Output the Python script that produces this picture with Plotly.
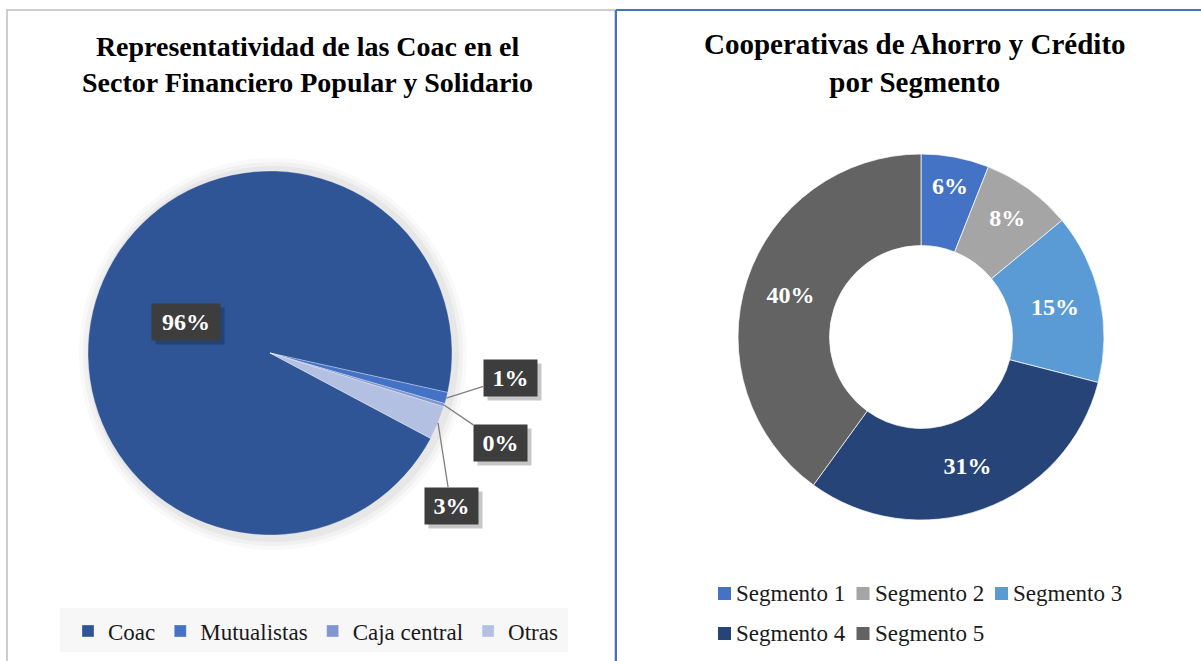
import math
import plotly.graph_objects as go

# datos
sector_labels = ["Coac", "Mutualistas", "Caja central", "Otras"]
sector_values = [95.7, 1.0, 0.3, 3.0]
sector_colors = ["#2F5597", "#4472C4", "#7F96D1", "#B4C0E2"]

segment_labels = ["Segmento 1", "Segmento 2", "Segmento 3", "Segmento 4", "Segmento 5"]
segment_values = [6, 8, 15, 31, 40]
segment_colors = ["#4472C4", "#A5A5A5", "#5B9BD5", "#264478", "#636363"]

W, H = 1201, 661
FONT = "Liberation Serif"


def px(x):
    return x / W


def py(y):
    return 1 - y / H


# geometria de los graficos (en pixeles)
pie_cx, pie_cy, pie_r = 270, 353, 182
pie_rotation = 118
don_cx, don_cy, don_r = 921, 337, 183

fig = go.Figure()

fig.add_trace(go.Pie(
    labels=sector_labels,
    values=sector_values,
    marker=dict(colors=sector_colors, line=dict(color="rgba(255,255,255,0.6)", width=0.5)),
    sort=False,
    direction="clockwise",
    rotation=pie_rotation,
    textinfo="none",
    hoverinfo="label+percent",
    domain=dict(x=[px(pie_cx - pie_r), px(pie_cx + pie_r)],
                y=[py(pie_cy + pie_r), py(pie_cy - pie_r)]),
))

fig.add_trace(go.Pie(
    labels=segment_labels,
    values=segment_values,
    hole=0.5,
    marker=dict(colors=segment_colors, line=dict(color="rgba(255,255,255,0.7)", width=1)),
    sort=False,
    direction="clockwise",
    rotation=0,
    textposition="inside",
    insidetextorientation="horizontal",
    texttemplate="%{percent:.0%}",
    textfont=dict(family=FONT, size=24, color="white", weight="bold"),
    hoverinfo="label+percent",
    showlegend=False,
    domain=dict(x=[px(don_cx - don_r), px(don_cx + don_r)],
                y=[py(don_cy + don_r), py(don_cy - don_r)]),
))

# etiquetas de datos del pastel (caja oscura), posicion calculada de los valores
total = sum(sector_values)
label_offsets = [None, (64, -20), (56, 38), (13, 83)]
box_w = [58, 43, 43, 43]
annotations = []
start = pie_rotation
for lab, val, off, bw in zip(sector_labels, sector_values, label_offsets, box_w):
    span = val / total * 360
    mid = math.radians(start + span / 2)
    start += span
    txt = "%d%%" % round(val / total * 100)
    if off is None:
        d = 0.49 * pie_r
        x = pie_cx + d * math.sin(mid)
        y = pie_cy - d * math.cos(mid)
        arrow = dict(showarrow=False)
    else:
        x = pie_cx + pie_r * math.sin(mid)
        y = pie_cy - pie_r * math.cos(mid)
        arrow = dict(showarrow=True, arrowhead=0, arrowwidth=1.3, standoff=0,
                     arrowcolor="#7F7F7F", ax=off[0], ay=off[1])
    # sombra (caja sin texto)
    sh = dict(arrow)
    if off is not None:
        sh["arrowcolor"] = "rgba(0,0,0,0)"
    annotations.append(dict(
        x=px(x), y=py(y), xref="paper", yref="paper", text=" ",
        xanchor="center", yanchor="middle", width=bw, height=26,
        xshift=4, yshift=-4, bgcolor="rgba(0,0,0,0.22)",
        font=dict(family=FONT, size=24), borderpad=5, **sh))
    annotations.append(dict(
        x=px(x), y=py(y), xref="paper", yref="paper", text=txt,
        xanchor="center", yanchor="middle", width=bw, height=26,
        bgcolor="#3D3D3D", font=dict(family=FONT, size=24, weight="bold", color="white"),
        borderpad=5, **arrow))

# titulos
annotations.append(dict(
    x=px(307), y=py(64), xref="paper", yref="paper", showarrow=False,
    xanchor="center", yanchor="middle",
    text="<b>Representatividad de las Coac en el<br>Sector Financiero Popular y Solidario</b>",
    font=dict(family=FONT, size=28, color="black"), align="center",
))
annotations.append(dict(
    x=px(915), y=py(63), xref="paper", yref="paper", showarrow=False,
    xanchor="center", yanchor="middle",
    text="<b>Cooperativas de Ahorro y Crédito<br>por Segmento</b>",
    font=dict(family=FONT, size=29, color="black"), align="center",
))

shapes = [
    # marco izquierdo
    dict(type="rect", xref="paper", yref="paper", x0=px(7), x1=px(615), y0=py(662), y1=py(10),
         line=dict(color="#BFBFBF", width=1.5), layer="below"),
    # marco derecho (azul)
    dict(type="line", xref="paper", yref="paper", x0=px(616), x1=px(616), y0=py(662), y1=py(10),
         line=dict(color="#4472C4", width=2)),
    dict(type="line", xref="paper", yref="paper", x0=px(616), x1=px(1201), y0=py(10), y1=py(10),
         line=dict(color="#4472C4", width=2)),
    # fondo leyenda izquierda
    dict(type="rect", xref="paper", yref="paper", x0=px(60), x1=px(568), y0=py(652), y1=py(608),
         fillcolor="#F7F7F7", line=dict(width=0), layer="below"),
]
# sombra suave del pastel
for k, a in [(12, 0.025), (8, 0.03), (4, 0.04)]:
    shapes.append(dict(type="circle", xref="paper", yref="paper",
                       x0=px(pie_cx - pie_r - k + 3), x1=px(pie_cx + pie_r + k + 3),
                       y0=py(pie_cy + pie_r + k + 3), y1=py(pie_cy - pie_r - k - 1),
                       fillcolor="rgba(0,0,0,%s)" % a, line=dict(width=0), layer="below"))

# leyenda de segmentos (3 por fila, como en Excel)
for i, (lab, col) in enumerate(zip(segment_labels, segment_colors)):
    lx = 718 + (i % 3) * 138.5
    ly = 593 + (i // 3) * 40
    shapes.append(dict(type="rect", xref="paper", yref="paper",
                       x0=px(lx), x1=px(lx + 13), y0=py(ly + 7), y1=py(ly - 6),
                       fillcolor=col, line=dict(width=0)))
    annotations.append(dict(x=px(lx + 16), y=py(ly), xref="paper", yref="paper",
                            xanchor="left", yanchor="middle", showarrow=False, text=lab,
                            font=dict(family=FONT, size=23, color="#1A1A1A")))

fig.update_layout(
    width=W, height=H,
    margin=dict(l=0, r=0, t=0, b=0, autoexpand=False),
    paper_bgcolor="white",
    plot_bgcolor="white",
    font=dict(family=FONT, color="#1A1A1A"),
    annotations=annotations,
    shapes=shapes,
    legend=dict(orientation="h", x=px(68), y=py(631), xanchor="left", yanchor="middle",
                bgcolor="rgba(0,0,0,0)", font=dict(family=FONT, size=23, color="#1A1A1A")),
)

fig.write_html("out.html", config={"displayModeBar": False},
               post_script="document.body.style.margin='0';")
